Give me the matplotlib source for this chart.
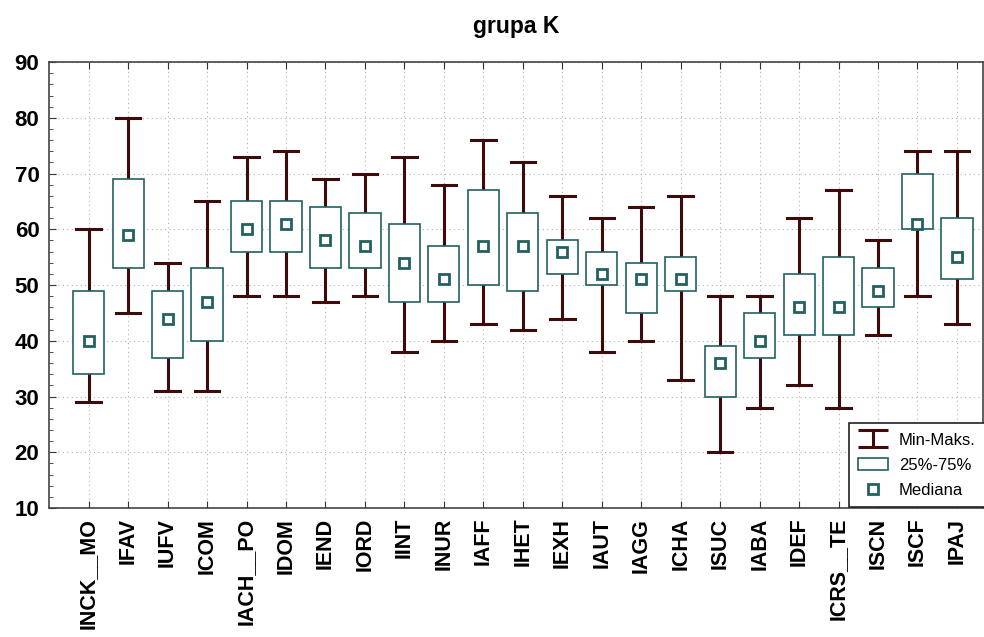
import numpy as np
import matplotlib
matplotlib.use("Agg")
import matplotlib.pyplot as plt
from matplotlib.patches import Patch
from matplotlib.lines import Line2D

plt.rcParams['font.family'] = ['Liberation Sans', 'DejaVu Sans']

# Data
labels = ["INCK__MO", "IFAV", "IUFV", "ICOM", "IACH__PO", "IDOM", "IEND", "IORD",
          "IINT", "INUR", "IAFF", "IHET", "IEXH", "IAUT", "IAGG", "ICHA", "ISUC",
          "IABA", "IDEF", "ICRS__TE", "ISCN", "ISCF", "IPAJ"]
mins = [29, 45, 31, 31, 48, 48, 47, 48, 38, 40, 43, 42, 44, 38, 40, 33, 20, 28, 32, 28, 41, 48, 43]
q1s = [34, 53, 37, 40, 56, 56, 53, 53, 47, 47, 50, 49, 52, 50, 45, 49, 30, 37, 41, 41, 46, 60, 51]
meds = [40, 59, 44, 47, 60, 61, 58, 57, 54, 51, 57, 57, 56, 52, 51, 51, 36, 40, 46, 46, 49, 61, 55]
q3s = [49, 69, 49, 53, 65, 65, 64, 63, 61, 57, 67, 63, 58, 56, 54, 55, 39, 45, 52, 55, 53, 70, 62]
maxs = [60, 80, 54, 65, 73, 74, 69, 70, 73, 68, 76, 72, 66, 62, 64, 66, 48, 48, 62, 67, 58, 74, 74]

whisk_col = "#3e0a0a"
box_col = "#236060"

stats = []
for lab, lo, a, m, b, hi in zip(labels, mins, q1s, meds, q3s, maxs):
    stats.append(dict(label=lab, whislo=lo, q1=a, med=m, q3=b, whishi=hi))

fig = plt.figure(figsize=(9.84, 6.37), dpi=100)
ax = fig.add_axes([0.05, 0.2025, 0.949, 0.7])

pos = np.arange(1, len(labels) + 1)
ax.bxp(stats, positions=pos, widths=0.79, showfliers=False, patch_artist=True,
       boxprops=dict(facecolor="white", edgecolor=box_col, linewidth=1.2, zorder=3),
       whiskerprops=dict(color=whisk_col, linewidth=2.2, zorder=2),
       capprops=dict(color=whisk_col, linewidth=2.2),
       capwidths=0.62,
       medianprops=dict(linewidth=0))
ax.plot(pos, meds, linestyle="none", marker="s", markersize=7.5, markerfacecolor="white",
        markeredgecolor=box_col, markeredgewidth=2, zorder=4)

ax.set_xlim(0, 23.66)
ax.set_ylim(10, 90)
ax.set_yticks(np.arange(10, 91, 10))
ax.set_yticks(np.arange(10, 91, 2), minor=True)
ax.set_xticks(pos)
ax.set_xticklabels(labels, rotation=90, fontsize=15.5, fontweight="bold")
for t in ax.get_yticklabels():
    t.set_fontsize(16)
    t.set_fontweight("bold")
ax.tick_params(axis="both", which="both", direction="in", top=True, right=False, color="#333333")
ax.tick_params(axis="y", which="major", length=5, pad=7)
ax.tick_params(axis="y", which="minor", length=3)
ax.tick_params(axis="x", length=5, pad=7)
ax.grid(True, linestyle=(0, (1, 3)), color="#b0b0b0", linewidth=0.8)
ax.set_axisbelow(True)
for s in ax.spines.values():
    s.set_color("#444444")
    s.set_linewidth(1.2)

ax.set_title("grupa K", fontsize=16.5, fontweight="bold", pad=21)

eb = ax.errorbar([np.nan], [np.nan], yerr=[1], fmt="none", ecolor=whisk_col,
                 elinewidth=2.2, capsize=10.5, capthick=2.2)
handles = [eb,
           Patch(facecolor="white", edgecolor=box_col, linewidth=1.2),
           Line2D([], [], linestyle="none", marker="s", markersize=7, markerfacecolor="white",
                  markeredgecolor=box_col, markeredgewidth=2)]
leg = ax.legend(handles, ["Min-Maks.", "25%-75%", "Mediana"], loc="lower right",
                bbox_to_anchor=(1.002, 0.003), fontsize=12, fancybox=False,
                framealpha=1, edgecolor="#222222", borderaxespad=0, handlelength=1.8,
                handletextpad=0.65, labelspacing=0.6, borderpad=0.55)
leg.get_frame().set_linewidth(1.2)

fig.savefig("out.png", dpi=100)
